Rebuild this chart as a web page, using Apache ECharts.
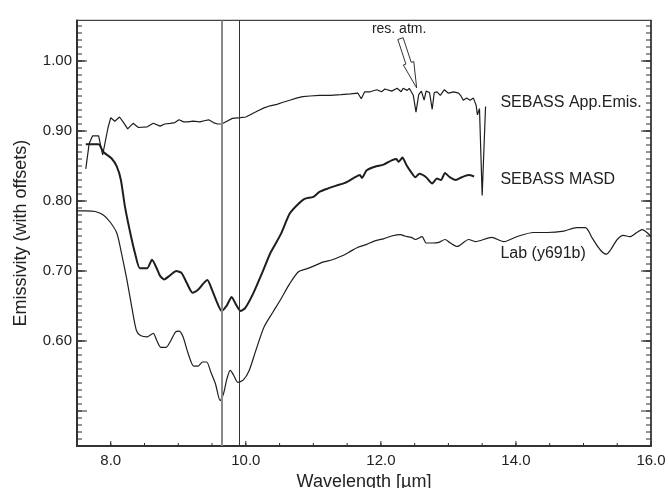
<!DOCTYPE html>
<html><head><meta charset="utf-8">
<script src="https://cdn.jsdelivr.net/npm/echarts@6/dist/echarts.min.js"></script>
<style>html,body{margin:0;padding:0;background:#fff}#c{width:668px;height:488px}</style>
</head><body><div id="c"></div>
<script>
// ---- data ----
const appEmisX = [7.63,7.68,7.73,7.82,7.88,7.96,8.00,8.06,8.13,8.19,8.25,8.33,8.41,8.54,8.63,8.73,8.80,8.88,8.95,9.01,9.08,9.14,9.22,9.32,9.40,9.45,9.52,9.58,9.64,9.72,9.80,9.92,10.00,10.08,10.18,10.27,10.36,10.46,10.55,10.65,10.75,10.84,10.95,11.09,11.25,11.41,11.55,11.66,11.71,11.76,11.84,11.94,12.01,12.06,12.16,12.24,12.30,12.33,12.39,12.42,12.48,12.52,12.56,12.60,12.64,12.67,12.72,12.76,12.79,12.83,12.88,12.94,13.00,13.08,13.15,13.18,13.22,13.27,13.32,13.37,13.41,13.43,13.46,13.48,13.50,13.55];
const appEmisY = [0.846,0.882,0.893,0.893,0.866,0.905,0.919,0.914,0.920,0.912,0.903,0.911,0.905,0.906,0.911,0.907,0.910,0.911,0.912,0.916,0.913,0.913,0.914,0.913,0.915,0.916,0.912,0.910,0.910,0.914,0.918,0.919,0.920,0.924,0.929,0.933,0.936,0.938,0.941,0.944,0.947,0.949,0.950,0.951,0.951,0.952,0.953,0.954,0.946,0.956,0.956,0.959,0.956,0.960,0.957,0.961,0.956,0.961,0.958,0.961,0.951,0.927,0.952,0.957,0.944,0.957,0.955,0.931,0.955,0.956,0.951,0.959,0.954,0.956,0.954,0.951,0.944,0.947,0.944,0.947,0.937,0.923,0.932,0.930,0.808,0.935];

const masdX = [7.63,7.82,7.89,8.01,8.09,8.15,8.21,8.29,8.36,8.43,8.54,8.61,8.68,8.73,8.79,8.88,8.97,9.05,9.13,9.21,9.30,9.37,9.43,9.50,9.57,9.64,9.72,9.79,9.86,9.92,9.99,10.11,10.24,10.36,10.40,10.52,10.65,10.78,10.87,11.00,11.09,11.22,11.34,11.47,11.60,11.69,11.72,11.79,11.91,12.04,12.16,12.23,12.26,12.32,12.38,12.45,12.51,12.57,12.67,12.76,12.83,12.89,12.95,13.02,13.11,13.20,13.30,13.38];
const masdY = [0.881,0.881,0.870,0.861,0.849,0.830,0.792,0.754,0.725,0.704,0.704,0.716,0.704,0.693,0.688,0.694,0.700,0.697,0.682,0.669,0.674,0.682,0.687,0.673,0.656,0.643,0.651,0.663,0.651,0.643,0.647,0.668,0.697,0.725,0.732,0.753,0.782,0.796,0.803,0.806,0.813,0.818,0.822,0.826,0.833,0.837,0.833,0.844,0.849,0.852,0.858,0.860,0.856,0.862,0.851,0.841,0.834,0.839,0.834,0.825,0.832,0.830,0.840,0.834,0.830,0.834,0.837,0.835];

const labX = [7.50,7.64,7.77,7.89,7.99,8.09,8.16,8.24,8.31,8.38,8.44,8.54,8.63,8.68,8.74,8.82,8.88,8.96,9.01,9.07,9.14,9.23,9.29,9.36,9.42,9.48,9.55,9.62,9.67,9.72,9.77,9.82,9.88,9.96,10.05,10.15,10.27,10.40,10.52,10.65,10.78,10.90,11.03,11.15,11.28,11.41,11.53,11.66,11.79,11.91,12.04,12.16,12.29,12.35,12.45,12.51,12.61,12.67,12.76,12.86,12.95,13.03,13.13,13.30,13.40,13.64,13.82,14.01,14.26,14.46,14.71,14.90,15.03,15.13,15.25,15.34,15.40,15.50,15.59,15.69,15.79,15.87,15.94,16.00];
const labY = [0.786,0.786,0.785,0.780,0.770,0.754,0.725,0.687,0.649,0.615,0.608,0.606,0.611,0.601,0.591,0.591,0.599,0.613,0.614,0.606,0.584,0.564,0.564,0.570,0.570,0.556,0.539,0.515,0.525,0.546,0.558,0.551,0.541,0.544,0.558,0.587,0.620,0.641,0.660,0.682,0.699,0.703,0.708,0.713,0.716,0.721,0.727,0.734,0.738,0.743,0.746,0.750,0.752,0.750,0.748,0.745,0.749,0.740,0.740,0.741,0.745,0.740,0.735,0.745,0.742,0.748,0.742,0.749,0.755,0.755,0.757,0.762,0.762,0.747,0.730,0.724,0.730,0.745,0.751,0.749,0.755,0.759,0.755,0.749];

const refLinesX = [9.64, 9.91];
const xTickLabels = [8, 10, 12, 14, 16];
const yTickLabels = [0.60, 0.70, 0.80, 0.90, 1.00];
const seriesNames = ['SEBASS App.Emis.', 'SEBASS MASD', 'Lab (y691b)'];
const labelPos = [[13.77, 0.940], [13.77, 0.830], [13.77, 0.7243]];
const annotText = 'res. atm.';
const annotPos = [12.27, 1.046];
const arrowTail = [12.29, 1.032];
const arrowTip = [12.53, 0.9615];

// ---- layout ----
const X_MIN = 7.5, X_MAX = 16.0, Y_MIN = 0.45, Y_MAX = 1.058;
const FONT = '"Liberation Sans", Arial, Helvetica, sans-serif';
const INK = '#222';

function steps(a, b, step) { const r = []; for (let i = Math.round(a / step); i <= Math.round(b / step); i++) r.push(+(i * step).toFixed(4)); return r; }
const yMajor = steps(0.5, 1.0, 0.1);
const yMed = steps(0.55, 1.05, 0.1);
const yMinor = steps(0.46, 1.05, 0.01);
const xMinor = steps(8.0, 15.5, 0.5);

// tick marks: [x, y, length, side]  side 0 = left, 1 = right, 2 = bottom
const tickData = [];
function addY(vals, len) { vals.forEach(v => { tickData.push([X_MIN, v, len, 0]); tickData.push([X_MAX, v, len, 1]); }); }
addY(yMinor, 5); addY(yMed, 8); addY(yMajor, 10);
xMinor.forEach(v => tickData.push([v, Y_MIN, 3, 2]));
xTickLabels.forEach(v => tickData.push([v, Y_MIN, 5, 2]));

const pair = (xs, ys) => xs.map((x, i) => [x, ys[i]]);

const chart = echarts.init(document.getElementById('c'), null, { renderer: 'canvas' });
const option = {
  animation: false,
  backgroundColor: '#fff',
  grid: { left: 77, right: 17, top: 20.4, bottom: 42, outerBoundsMode: 'none', containLabel: false,
          show: true, borderColor: '#444', borderWidth: 1.2, backgroundColor: 'transparent' },
  xAxis: [{
    type: 'value', position: 'bottom', min: X_MIN, max: X_MAX,
    axisLine: { show: true, onZero: false, lineStyle: { color: '#333', width: 2 } },
    splitLine: { show: false }, axisTick: { show: false },
    axisLabel: { show: true, customValues: xTickLabels, formatter: v => (+v).toFixed(1), color: INK, fontSize: 15, fontFamily: FONT, margin: 7 },
    name: 'Wavelength [\u00b5m]', nameLocation: 'middle', nameGap: 24,
    nameTextStyle: { fontSize: 18, color: INK, fontFamily: FONT }
  }],
  yAxis: [{
    type: 'value', position: 'left', min: Y_MIN, max: Y_MAX,
    axisLine: { show: true, onZero: false, lineStyle: { color: '#333', width: 2 } },
    splitLine: { show: false }, axisTick: { show: false },
    axisLabel: { show: true, customValues: yTickLabels, formatter: v => (+v).toFixed(2), color: INK, fontSize: 15, fontFamily: FONT, margin: 5 },
    name: 'Emissivity (with offsets)', nameLocation: 'middle', nameGap: 47,
    nameTextStyle: { fontSize: 18, color: INK, fontFamily: FONT }
  }, {
    type: 'value', position: 'right', min: Y_MIN, max: Y_MAX,
    axisLine: { show: true, onZero: false, lineStyle: { color: '#333', width: 1.5 } },
    splitLine: { show: false }, axisTick: { show: false }, axisLabel: { show: false }
  }],
  series: [
    { name: seriesNames[0], type: 'line', data: pair(appEmisX, appEmisY), showSymbol: false, symbol: 'none',
      lineStyle: { color: '#1e1e1e', width: 1.2 }, smooth: false, z: 3 },
    { name: seriesNames[1], type: 'line', data: pair(masdX, masdY), showSymbol: false, symbol: 'none',
      lineStyle: { color: '#1e1e1e', width: 2 }, smooth: 0.2, z: 3 },
    { name: seriesNames[2], type: 'line', data: pair(labX, labY), showSymbol: false, symbol: 'none',
      lineStyle: { color: '#1e1e1e', width: 1.2 }, smooth: 0.25, z: 3,
      markLine: {
        silent: true, symbol: ['none', 'none'], label: { show: false }, animation: false,
        data: [
          { xAxis: refLinesX[0], lineStyle: { color: '#8a8a8a', width: 2, type: 'solid' } },
          { xAxis: refLinesX[1], lineStyle: { color: '#333', width: 1, type: 'solid' } }
        ]
      }
    },
    { name: 'ticks', type: 'custom', xAxisIndex: 0, yAxisIndex: 0, silent: true, clip: false, z: 6,
      animation: false, dimensions: ['x', 'y', 'len', 'side'], encode: { x: 0, y: 1 },
      data: tickData,
      renderItem: function (params, api) {
        const p = api.coord([api.value(0), api.value(1)]);
        const len = api.value(2), side = api.value(3);
        let x2 = p[0], y2 = p[1];
        if (side === 0) x2 = p[0] + len;
        else if (side === 1) x2 = p[0] - len;
        else y2 = p[1] - len;
        return { type: 'line', shape: { x1: p[0], y1: p[1], x2: x2, y2: y2 },
                 style: { stroke: '#2a2a2a', lineWidth: 1 } };
      }
    }
  ]
};
chart.setOption(option);

function px(p) { return chart.convertToPixel({ xAxisIndex: 0, yAxisIndex: 0 }, p); }
const graphics = [];
seriesNames.forEach((n, i) => {
  const p = px(labelPos[i]);
  graphics.push({ type: 'text', x: p[0], y: p[1], z: 10, style: { text: n, fill: INK, font: '16px ' + FONT, align: 'left', verticalAlign: 'middle' } });
});
const ap = px(annotPos);
graphics.push({ type: 'text', x: ap[0], y: ap[1], z: 10, style: { text: annotText, fill: INK, font: '14px ' + FONT, align: 'center', verticalAlign: 'middle' } });

// hollow arrow
const S = px(arrowTail), T = px(arrowTip);
let dx = T[0] - S[0], dy = T[1] - S[1];
const L = Math.hypot(dx, dy); dx /= L; dy /= L;
const nx = -dy, ny = dx;
const hl = 26, hw = 5.5, sw = 2.8;
const B = [T[0] - dx * hl, T[1] - dy * hl];
const pts = [
  [S[0] + nx * sw, S[1] + ny * sw], [B[0] + nx * sw, B[1] + ny * sw], [B[0] + nx * hw, B[1] + ny * hw],
  [T[0], T[1]],
  [B[0] - nx * hw, B[1] - ny * hw], [B[0] - nx * sw, B[1] - ny * sw], [S[0] - nx * sw, S[1] - ny * sw]
];
graphics.push({ type: 'polygon', z: 10, shape: { points: pts }, style: { fill: '#fff', stroke: '#333', lineWidth: 1 } });
chart.setOption({ graphic: graphics });
</script>
</body></html>
